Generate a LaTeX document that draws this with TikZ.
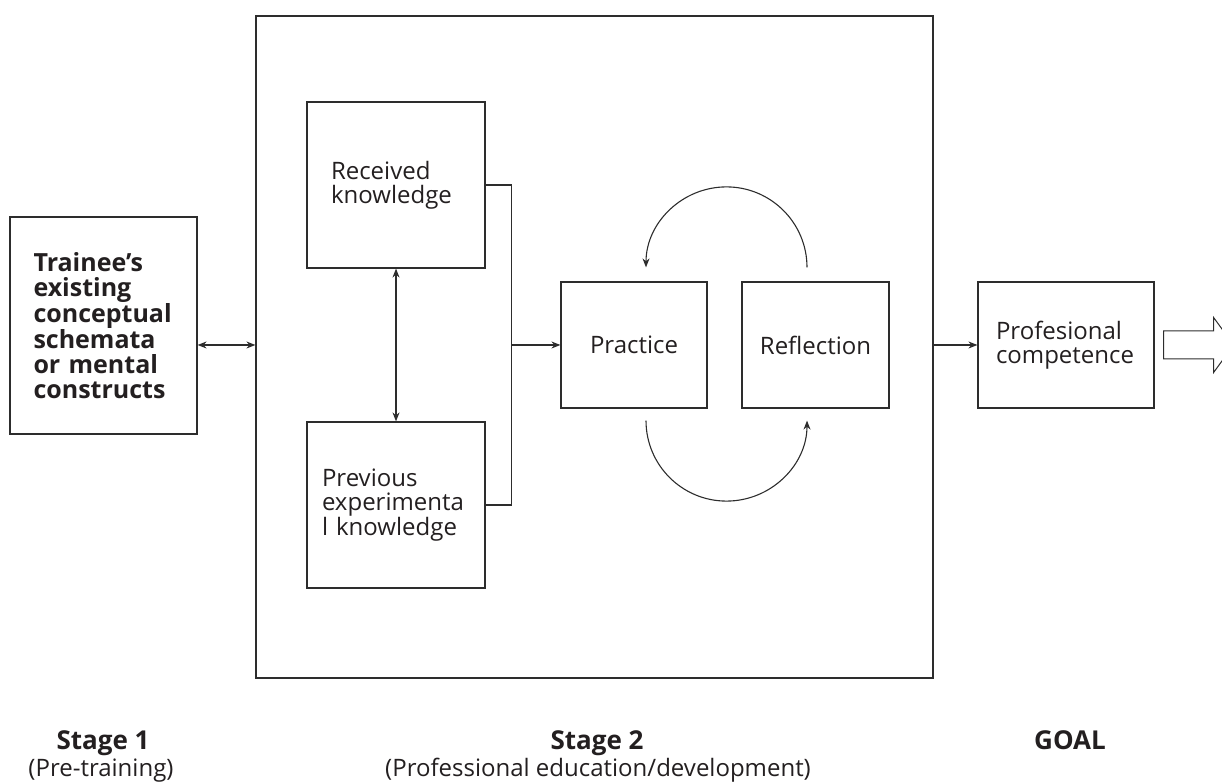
\documentclass[tikz,border=0pt]{standalone}
\usepackage{fontspec}
\setmainfont{Open Sans}
\usetikzlibrary{arrows,arrows.meta}
\usetikzlibrary{calc}
\definecolor{linie}{RGB}{45,45,45}
\definecolor{schrift}{RGB}{35,31,32}

\begin{document}
\begin{tikzpicture}[x=1pt, y=1pt, linie, line width=1.1pt,
    box/.style={draw=linie, line width=1.2pt, inner sep=0pt, text=schrift, font=\fontsize{24}{24}\selectfont},
    pfeil/.style={-{Stealth[length=9pt, width=7pt]}},
    doppelpfeil/.style={{Stealth[length=9pt, width=7pt]}-{Stealth[length=9pt, width=7pt]}},
    label/.style={anchor=base, inner sep=0pt, text=schrift}]

    \useasboundingbox (0,0) rectangle (1222,781);

    % boxes
    \node[box, minimum width=187, minimum height=217, text width=140, align=left,
        font=\fontsize{25}{24.8}\selectfont\bfseries] (trainee) at (103.5,455.5)
        {Trainee’s\\existing\\conceptual\\schemata\\or mental\\constructs};
    \node[box, minimum width=677, minimum height=662] (stagebox) at (594.5,434) {};
    \node[box, minimum width=178, minimum height=166, text width=130, align=left] (received) at (396,596)
        {Received\\knowledge};
    \node[box, minimum width=178, minimum height=166, text width=148, align=left,
        font=\fontsize{24}{24.5}\selectfont] (previous) at (396,276)
        {Previous\\experimenta\\l knowledge};
    \node[box, minimum width=146, minimum height=126] (practice) at (634,436) {Practice};
    \node[box, minimum width=147, minimum height=126] (reflection) at (815.5,436) {Reflection};
    \node[box, minimum width=176, minimum height=126, text width=140, align=left] (competence) at (1066,436)
        {Profesional\\competence};

    % connectors
    \draw[doppelpfeil] (trainee.east |- practice.west) -- (stagebox.west |- practice.west);
    \draw[doppelpfeil] (received) -- (previous);
    \coordinate (merge) at ([xshift=-49pt]practice.west);
    \draw (received.east) -| (merge) |- (previous.east);
    \draw[pfeil] (merge) -- (practice);
    \draw[pfeil] ([xshift=-8.5pt, yshift=14pt]reflection.north) arc[start angle=0, end angle=180, radius=80.5];
    \draw[pfeil] ([xshift=12pt, yshift=-12pt]practice.south) arc[start angle=180, end angle=360, radius=80.5];
    \draw[pfeil] (stagebox.east |- competence.west) -- (competence.west);

    % hollow arrow
    \coordinate (goalarrow) at ([xshift=9pt]competence.east);
    \draw[line width=1pt] (goalarrow) ++(0,14) -- ++(50,0) -- ++(0,13.5) -- ++(20,-27.5)
        -- ++(-20,-27.5) -- ++(0,13.5) -- ++(-50,0) -- cycle;

    % stages
    \node[label, font=\fontsize{26}{26}\selectfont\bfseries] (stage1) at (103,31) {Stage 1};
    \node[label, font=\fontsize{24}{24}\selectfont] (pre) at (101,5) {(Pre-training)};
    \node[label, font=\fontsize{26}{26}\selectfont\bfseries] (stage2) at (597,31) {Stage 2};
    \node[label, font=\fontsize{24}{24}\selectfont] (prof) at (598,5) {(Professional education/development)};
    \node[label, font=\fontsize{26}{26}\selectfont\bfseries] (goal) at (1070,31) {GOAL};

\end{tikzpicture}
\end{document}
